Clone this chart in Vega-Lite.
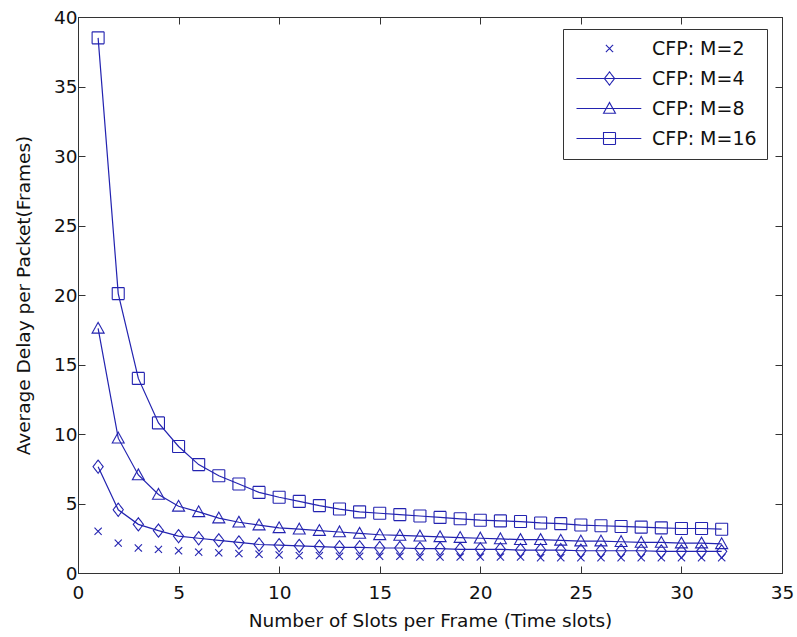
{
  "$schema": "https://vega.github.io/schema/vega-lite/v6.json",
  "width": 704,
  "height": 556,
  "autosize": "none",
  "padding": {"left": 78, "top": 17, "right": 15, "bottom": 64},
  "background": "white",
  "config": {
    "view": {"stroke": "#333333", "strokeWidth": 1},
    "font": "DejaVu Sans",
    "axis": {
      "grid": false,
      "tickSize": -7,
      "tickColor": "#333333",
      "domainColor": "#333333",
      "labelFont": "DejaVu Sans",
      "titleFont": "DejaVu Sans",
      "labelFontSize": 18.5,
      "titleFontSize": 18.5,
      "titleFontWeight": "normal",
      "labelColor": "#111111",
      "titleColor": "#111111",
      "labelFlush": false,
      "labelOverlap": false,
      "labelBound": false
    }
  },
  "datasets": {
    "d": [
      {"n":1,"d":38.5,"s":"CFP: M=16"},{"n":2,"d":20.1,"s":"CFP: M=16"},{"n":3,"d":14.0,"s":"CFP: M=16"},{"n":4,"d":10.8,"s":"CFP: M=16"},
      {"n":5,"d":9.1,"s":"CFP: M=16"},{"n":6,"d":7.8,"s":"CFP: M=16"},{"n":7,"d":7.0,"s":"CFP: M=16"},{"n":8,"d":6.4,"s":"CFP: M=16"},
      {"n":9,"d":5.8,"s":"CFP: M=16"},{"n":10,"d":5.45,"s":"CFP: M=16"},{"n":11,"d":5.15,"s":"CFP: M=16"},{"n":12,"d":4.85,"s":"CFP: M=16"},
      {"n":13,"d":4.6,"s":"CFP: M=16"},{"n":14,"d":4.4,"s":"CFP: M=16"},{"n":15,"d":4.3,"s":"CFP: M=16"},{"n":16,"d":4.2,"s":"CFP: M=16"},
      {"n":17,"d":4.1,"s":"CFP: M=16"},{"n":18,"d":4.0,"s":"CFP: M=16"},{"n":19,"d":3.9,"s":"CFP: M=16"},{"n":20,"d":3.8,"s":"CFP: M=16"},
      {"n":21,"d":3.75,"s":"CFP: M=16"},{"n":22,"d":3.7,"s":"CFP: M=16"},{"n":23,"d":3.6,"s":"CFP: M=16"},{"n":24,"d":3.55,"s":"CFP: M=16"},
      {"n":25,"d":3.45,"s":"CFP: M=16"},{"n":26,"d":3.4,"s":"CFP: M=16"},{"n":27,"d":3.35,"s":"CFP: M=16"},{"n":28,"d":3.3,"s":"CFP: M=16"},
      {"n":29,"d":3.25,"s":"CFP: M=16"},{"n":30,"d":3.2,"s":"CFP: M=16"},{"n":31,"d":3.2,"s":"CFP: M=16"},{"n":32,"d":3.15,"s":"CFP: M=16"},
      {"n":1,"d":17.6,"s":"CFP: M=8"},{"n":2,"d":9.7,"s":"CFP: M=8"},{"n":3,"d":7.05,"s":"CFP: M=8"},{"n":4,"d":5.65,"s":"CFP: M=8"},
      {"n":5,"d":4.8,"s":"CFP: M=8"},{"n":6,"d":4.4,"s":"CFP: M=8"},{"n":7,"d":3.95,"s":"CFP: M=8"},{"n":8,"d":3.65,"s":"CFP: M=8"},
      {"n":9,"d":3.45,"s":"CFP: M=8"},{"n":10,"d":3.25,"s":"CFP: M=8"},{"n":11,"d":3.15,"s":"CFP: M=8"},{"n":12,"d":3.05,"s":"CFP: M=8"},
      {"n":13,"d":2.95,"s":"CFP: M=8"},{"n":14,"d":2.85,"s":"CFP: M=8"},{"n":15,"d":2.75,"s":"CFP: M=8"},{"n":16,"d":2.7,"s":"CFP: M=8"},
      {"n":17,"d":2.65,"s":"CFP: M=8"},{"n":18,"d":2.6,"s":"CFP: M=8"},{"n":19,"d":2.55,"s":"CFP: M=8"},{"n":20,"d":2.5,"s":"CFP: M=8"},
      {"n":21,"d":2.45,"s":"CFP: M=8"},{"n":22,"d":2.4,"s":"CFP: M=8"},{"n":23,"d":2.4,"s":"CFP: M=8"},{"n":24,"d":2.35,"s":"CFP: M=8"},
      {"n":25,"d":2.3,"s":"CFP: M=8"},{"n":26,"d":2.3,"s":"CFP: M=8"},{"n":27,"d":2.25,"s":"CFP: M=8"},{"n":28,"d":2.2,"s":"CFP: M=8"},
      {"n":29,"d":2.2,"s":"CFP: M=8"},{"n":30,"d":2.15,"s":"CFP: M=8"},{"n":31,"d":2.15,"s":"CFP: M=8"},{"n":32,"d":2.1,"s":"CFP: M=8"},
      {"n":1,"d":7.65,"s":"CFP: M=4"},{"n":2,"d":4.55,"s":"CFP: M=4"},{"n":3,"d":3.5,"s":"CFP: M=4"},{"n":4,"d":3.05,"s":"CFP: M=4"},
      {"n":5,"d":2.65,"s":"CFP: M=4"},{"n":6,"d":2.5,"s":"CFP: M=4"},{"n":7,"d":2.35,"s":"CFP: M=4"},{"n":8,"d":2.2,"s":"CFP: M=4"},
      {"n":9,"d":2.05,"s":"CFP: M=4"},{"n":10,"d":2.0,"s":"CFP: M=4"},{"n":11,"d":1.95,"s":"CFP: M=4"},{"n":12,"d":1.9,"s":"CFP: M=4"},
      {"n":13,"d":1.85,"s":"CFP: M=4"},{"n":14,"d":1.85,"s":"CFP: M=4"},{"n":15,"d":1.8,"s":"CFP: M=4"},{"n":16,"d":1.8,"s":"CFP: M=4"},
      {"n":17,"d":1.75,"s":"CFP: M=4"},{"n":18,"d":1.75,"s":"CFP: M=4"},{"n":19,"d":1.7,"s":"CFP: M=4"},{"n":20,"d":1.7,"s":"CFP: M=4"},
      {"n":21,"d":1.7,"s":"CFP: M=4"},{"n":22,"d":1.65,"s":"CFP: M=4"},{"n":23,"d":1.65,"s":"CFP: M=4"},{"n":24,"d":1.65,"s":"CFP: M=4"},
      {"n":25,"d":1.6,"s":"CFP: M=4"},{"n":26,"d":1.6,"s":"CFP: M=4"},{"n":27,"d":1.6,"s":"CFP: M=4"},{"n":28,"d":1.6,"s":"CFP: M=4"},
      {"n":29,"d":1.55,"s":"CFP: M=4"},{"n":30,"d":1.55,"s":"CFP: M=4"},{"n":31,"d":1.55,"s":"CFP: M=4"},{"n":32,"d":1.55,"s":"CFP: M=4"},
      {"n":1,"d":3.0,"s":"CFP: M=2"},{"n":2,"d":2.15,"s":"CFP: M=2"},{"n":3,"d":1.8,"s":"CFP: M=2"},{"n":4,"d":1.7,"s":"CFP: M=2"},
      {"n":5,"d":1.6,"s":"CFP: M=2"},{"n":6,"d":1.5,"s":"CFP: M=2"},{"n":7,"d":1.45,"s":"CFP: M=2"},{"n":8,"d":1.4,"s":"CFP: M=2"},
      {"n":9,"d":1.35,"s":"CFP: M=2"},{"n":10,"d":1.3,"s":"CFP: M=2"},{"n":11,"d":1.25,"s":"CFP: M=2"},{"n":12,"d":1.25,"s":"CFP: M=2"},
      {"n":13,"d":1.2,"s":"CFP: M=2"},{"n":14,"d":1.2,"s":"CFP: M=2"},{"n":15,"d":1.2,"s":"CFP: M=2"},{"n":16,"d":1.2,"s":"CFP: M=2"},
      {"n":17,"d":1.15,"s":"CFP: M=2"},{"n":18,"d":1.15,"s":"CFP: M=2"},{"n":19,"d":1.15,"s":"CFP: M=2"},{"n":20,"d":1.15,"s":"CFP: M=2"},
      {"n":21,"d":1.15,"s":"CFP: M=2"},{"n":22,"d":1.15,"s":"CFP: M=2"},{"n":23,"d":1.1,"s":"CFP: M=2"},{"n":24,"d":1.1,"s":"CFP: M=2"},
      {"n":25,"d":1.1,"s":"CFP: M=2"},{"n":26,"d":1.1,"s":"CFP: M=2"},{"n":27,"d":1.1,"s":"CFP: M=2"},{"n":28,"d":1.1,"s":"CFP: M=2"},
      {"n":29,"d":1.1,"s":"CFP: M=2"},{"n":30,"d":1.1,"s":"CFP: M=2"},{"n":31,"d":1.1,"s":"CFP: M=2"},{"n":32,"d":1.1,"s":"CFP: M=2"}
    ]
  },
  "layer": [
    {
      "data": {"name": "d"},
      "layer": [
        {
          "transform": [{"filter": "datum.s != 'CFP: M=2'"}],
          "mark": {"type": "line", "color": "#2323b0", "strokeWidth": 1.2},
          "encoding": {
            "x": {"field": "n", "type": "quantitative", "scale": {"domain": [0, 35], "nice": false},
              "axis": {"values": [0,5,10,15,20,25,30,35], "title": "Number of Slots per Frame (Time slots)", "labelPadding": 17, "titlePadding": 10}},
            "y": {"field": "d", "type": "quantitative", "scale": {"domain": [0, 40], "nice": false},
              "axis": {"values": [0,5,10,15,20,25,30,35,40], "title": "Average Delay per Packet(Frames)", "labelPadding": 8, "titleX": -45}},
            "detail": {"field": "s"}
          }
        },
        {
          "mark": {"type": "point", "filled": false, "color": "#2323b0", "size": 144, "strokeWidth": 1.1, "opacity": 1},
          "encoding": {
            "x": {"field": "n", "type": "quantitative"},
            "y": {"field": "d", "type": "quantitative"},
            "shape": {
              "field": "s",
              "type": "nominal",
              "scale": {
                "domain": ["CFP: M=2", "CFP: M=4", "CFP: M=8", "CFP: M=16"],
                "range": [
                  "M-0.6,-0.6L0.6,0.6M-0.6,0.6L0.6,-0.6",
                  "M0,-1.1L0.85,0L0,1.1L-0.85,0Z",
                  "M0,-1L1,0.8L-1,0.8Z",
                  "M-1,-1L1,-1L1,1L-1,1Z"
                ]
              },
              "legend": null
            },
            "strokeDash": {
              "field": "s",
              "type": "nominal",
              "sort": ["CFP: M=2", "CFP: M=4", "CFP: M=8", "CFP: M=16"],
              "scale": {
                "range": [[1, 0], [1, 0], [1, 0], [1, 0]]
              },
              "legend": {
                "orient": "none",
                "legendX": 485,
                "legendY": 12,
                "title": null,
                "strokeColor": "#333333",
                "fillColor": "white",
                "padding": 10,
                "symbolSize": 144,
                "symbolStrokeWidth": 1.1,
                "labelFontSize": 19,
                "labelFont": "DejaVu Sans",
                "labelColor": "#111111",
                "labelOffset": 60,
                "rowPadding": 10,
                "encoding": {
                  "symbols": {
                    "shape": {"value": {"expr": "datum.value === 'CFP: M=2' ? 'M3.9,-0.6L5.1,0.6M3.9,0.6L5.1,-0.6' : datum.value === 'CFP: M=4' ? 'M-1,0L9.8,0M4.5,-1.1L5.35,0L4.5,1.1L3.65,0Z' : datum.value === 'CFP: M=8' ? 'M-1,0L9.8,0M4.5,-1L5.5,0.8L3.5,0.8Z' : 'M-1,0L9.8,0M3.5,-1L5.5,-1L5.5,1L3.5,1Z'"}}
                  }
                }
              }
            }
          }
        }
      ]
    },
    {
      "data": {"name": "d"},
      "mark": {"type": "point", "opacity": 0},
      "encoding": {
        "x": {"field": "n", "type": "quantitative", "scale": {"domain": [0, 35], "nice": false},
          "axis": {"orient": "top", "values": [0,5,10,15,20,25,30,35], "labels": false, "title": null}},
        "y": {"field": "d", "type": "quantitative", "scale": {"domain": [0, 40], "nice": false},
          "axis": {"orient": "right", "values": [0,5,10,15,20,25,30,35,40], "labels": false, "title": null}}
      }
    }
  ],
  "resolve": {"scale": {"x": "independent", "y": "independent"}}
}
